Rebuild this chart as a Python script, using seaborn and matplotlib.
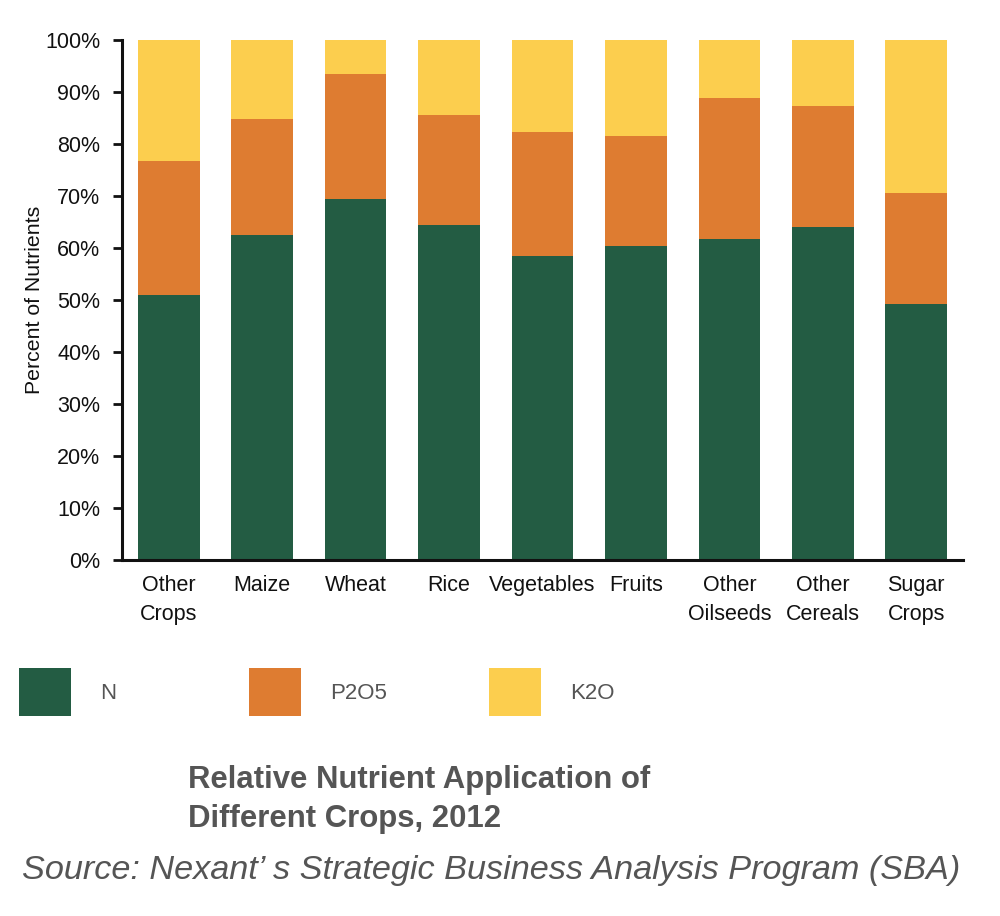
import matplotlib
matplotlib.use("Agg")
import matplotlib.pyplot as plt
from matplotlib.patches import Patch
from matplotlib.ticker import FixedLocator, PercentFormatter
import seaborn as sns
import pandas as pd
import numpy as np

crops = ["Other\nCrops", "Maize", "Wheat", "Rice", "Vegetables", "Fruits",
         "Other\nOilseeds", "Other\nCereals", "Sugar\nCrops"]
n_vals = [50.9, 62.6, 69.4, 64.5, 58.5, 60.4, 61.8, 64.0, 49.2]
p_vals = [25.8, 22.3, 24.1, 21.1, 23.9, 21.2, 27.1, 23.3, 21.3]
k_vals = [23.3, 15.1, 6.5, 14.4, 17.6, 18.4, 11.1, 12.7, 29.5]
series = ["N", "P2O5", "K2O"]
colors = ["#235C43", "#DE7C31", "#FCCE4E"]
yticks = [0, 10, 20, 30, 40, 50, 60, 70, 80, 90, 100]

df = pd.DataFrame({"crop": crops, "N": n_vals, "P2O5": p_vals, "K2O": k_vals})
df["c_N"] = df["N"]
df["c_P2O5"] = df["N"] + df["P2O5"]
df["c_K2O"] = df["N"] + df["P2O5"] + df["K2O"]

sns.set_style("white")
fam = ["Liberation Sans", "DejaVu Sans"]
plt.rcParams["font.family"] = fam

fig = plt.figure(figsize=(10, 9.16), dpi=100)
ax = fig.add_axes([0.122, 0.3886, 0.841, 0.5677])

for s, c in zip(reversed(series), reversed(colors)):
    sns.barplot(data=df, x="crop", y="c_" + s, color=c, saturation=1,
                width=0.66, ax=ax, errorbar=None, linewidth=0)

ax.set_xlim(-0.5, len(crops) - 0.5)
ax.set_ylim(0, 100)
ax.set_yticks(yticks)
ax.yaxis.set_major_formatter(PercentFormatter(decimals=0))
ax.set_xlabel("")
ax.set_ylabel("Percent of Nutrients", fontsize=15.3, color="#111111", labelpad=1)

for sp in ["top", "right"]:
    ax.spines[sp].set_visible(False)
for sp in ["left", "bottom"]:
    ax.spines[sp].set_color("#111111")
    ax.spines[sp].set_linewidth(2.2)

ax.xaxis.set_minor_locator(FixedLocator(np.arange(-0.5, len(crops), 1.0)))
ax.tick_params(axis="x", which="major", length=0, labelsize=15.5, pad=11, colors="#111111")
ax.tick_params(axis="x", which="minor", length=8, width=2, color="#111111", direction="out")
ax.tick_params(axis="y", which="major", length=6.5, width=2, labelsize=15.5, color="#111111",
               labelcolor="#111111", pad=9, left=True)
for lab in ax.get_xticklabels():
    lab.set_linespacing(1.45)

leg_x = [0.019, 0.249, 0.489]
for s, c, lx in zip(series, colors, leg_x):
    leg = fig.legend(handles=[Patch(facecolor=c, edgecolor="none", label=s)],
                     loc="center left", bbox_to_anchor=(lx, 0.2445),
                     frameon=False, fontsize=16, handlelength=2.35, handleheight=3.0,
                     handletextpad=1.3, borderaxespad=0, borderpad=0)
    for t in leg.get_texts():
        t.set_color("#555555")

fig.text(0.188, 0.127, "Relative Nutrient Application of\nDifferent Crops, 2012",
         fontsize=22.4, fontweight="bold", color="#555555", va="center", ha="left",
         linespacing=1.42)
fig.text(0.022, 0.050, "Source: Nexant\u2019 s Strategic Business Analysis Program (SBA)",
         fontsize=24.7, style="italic", color="#555555", va="center", ha="left")

fig.savefig("out.png", dpi=100, facecolor="white")
